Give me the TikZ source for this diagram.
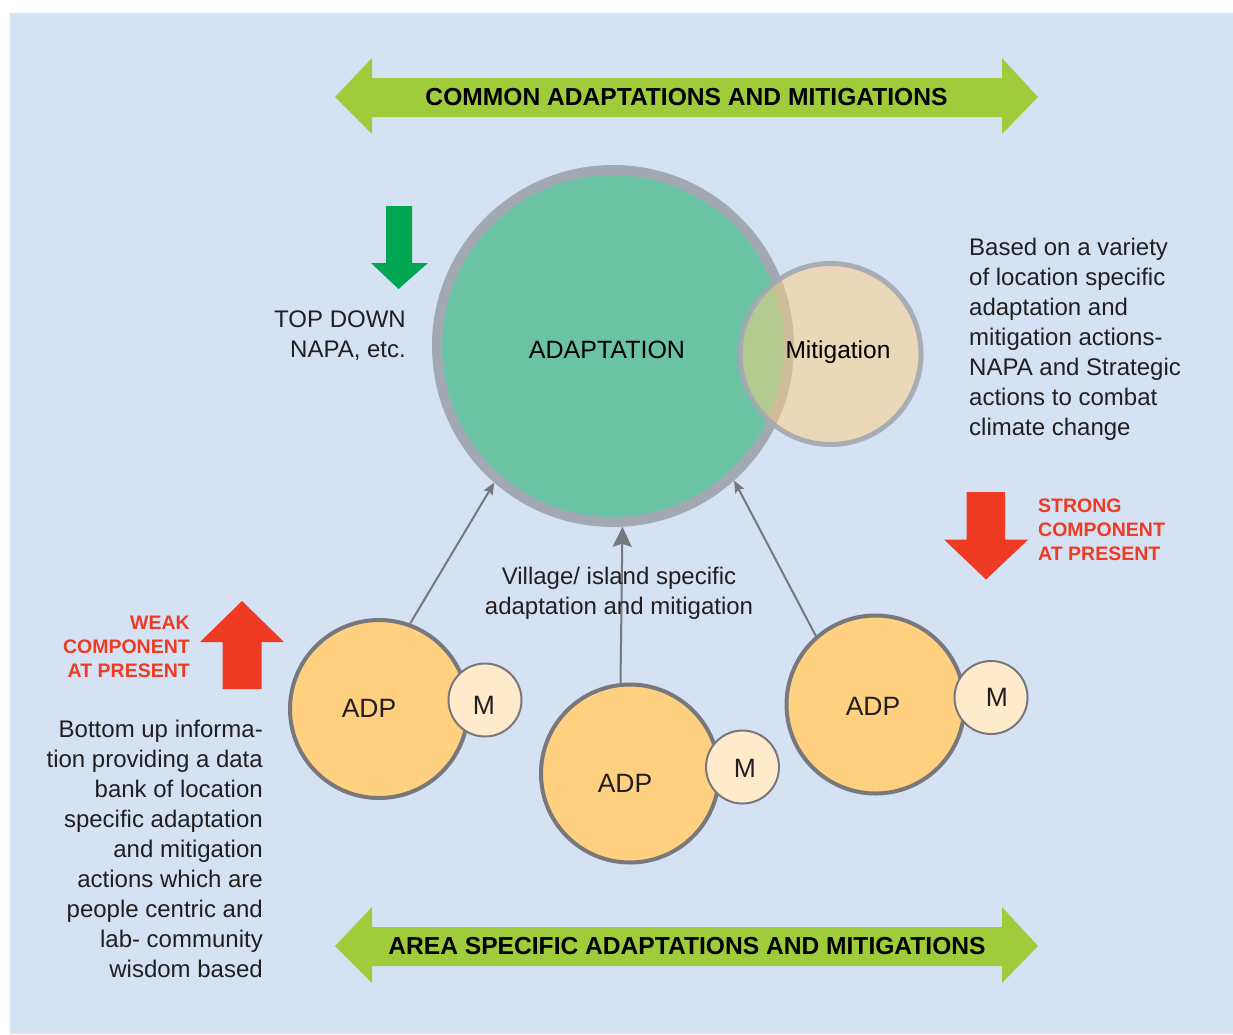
\documentclass[tikz,border=0pt]{standalone}
\usepackage{fontspec}
\setmainfont{Liberation Sans}
\usetikzlibrary{arrows.meta}
\definecolor{bgblue}{HTML}{D5E2F3}
\definecolor{lime}{HTML}{9FCC3B}
\definecolor{dgreen}{HTML}{00A651}
\definecolor{redc}{HTML}{EF3A24}
\definecolor{adgreen}{HTML}{6AC4A3}
\definecolor{ringgray}{HTML}{A2A9B2}
\definecolor{adporange}{HTML}{FFD080}
\definecolor{mfill}{HTML}{FFEBCC}
\definecolor{adpring}{HTML}{77787B}
\definecolor{conngray}{HTML}{77787B}
\definecolor{textdark}{HTML}{231F20}
\begin{document}
\begin{tikzpicture}[x=1pt,y=-1pt,
  txt/.style={inner sep=0pt, text=textdark},
  body/.style={txt, font=\fontsize{24}{30}\selectfont},
  bigtxt/.style={txt, font=\fontsize{26.5}{30}\selectfont},
  titletxt/.style={txt, font=\bfseries\fontsize{24.6}{30}\selectfont, text=black},
  redtxt/.style={inner sep=0pt, text=redc, font=\bfseries\fontsize{19.5}{24}\selectfont},
  adp/.style={circle, draw=adpring, line width=4pt, fill=adporange, minimum size=178pt, inner sep=0pt},
  mcirc/.style={circle, draw=adpring, line width=2pt, fill=mfill, minimum size=73pt, inner sep=0pt},
  conn/.style={draw=conngray, line width=2pt, -{Stealth[length=12pt,width=10pt,inset=2pt]}},
  connbig/.style={draw=conngray, line width=2pt, -{Stealth[length=20pt,width=19pt,inset=3pt]}}]
\useasboundingbox (0,0) rectangle (1233,1034);
\fill[white] (0,0) rectangle (1233,1034);
\fill[bgblue] (10,13) rectangle (1233,1034);

% green double arrows
\fill[lime] (335,97) -- (372,58) -- (372,78) -- (1002,78) -- (1002,58) -- (1038,97)
  -- (1002,134) -- (1002,117) -- (372,117) -- (372,134) -- cycle;
\fill[lime] (335,946) -- (372,907) -- (372,927) -- (1002,927) -- (1002,907) -- (1038,946)
  -- (1002,983) -- (1002,966) -- (372,966) -- (372,983) -- cycle;
\node[titletxt] (common) at (686.5,97) {COMMON ADAPTATIONS AND MITIGATIONS};
\node[titletxt] (area) at (687,946) {AREA SPECIFIC ADAPTATIONS AND MITIGATIONS};

% block arrows
\fill[dgreen] (386,206) -- (412,206) -- (412,263) -- (428,263) -- (398.5,289) -- (371,263) -- (386,263) -- cycle;
\fill[redc] (242,601) -- (284,642) -- (261.7,642) -- (261.7,689) -- (222.7,689) -- (222.7,642) -- (200,642) -- cycle;
\fill[redc] (966.7,492) -- (1005,492) -- (1005,539.5) -- (1028.3,539.5) -- (986,579.5) -- (944,539.5) -- (966.7,539.5) -- cycle;

% main circles
\node[circle, draw=ringgray, line width=10pt, fill=adgreen, minimum size=352pt, inner sep=0pt] (adapt) at (613,346) {};
\node[circle, draw=ringgray, draw opacity=0.9, line width=5pt, fill=adporange, fill opacity=0.5, minimum size=181pt, inner sep=0pt] (mitig) at (830.5,354) {};
\node[txt, font=\fontsize{25}{30}\selectfont, text=black] (adaptxt) at (607,350) {ADAPTATION};
\node[txt, font=\fontsize{24.5}{30}\selectfont, text=black] (mitxt) at (838,352) {Mitigation};

% ADP circles
\node[adp] (adpL) at (379,709) {};
\node[adp] (adpC) at (630,773.5) {};
\node[adp] (adpR) at (875.5,704.5) {};
\node[mcirc] (mL) at (485,700) {};
\node[mcirc] (mC) at (742.5,767) {};
\node[mcirc] (mR) at (991,697.5) {};
\node[bigtxt] (adpLt) at (369,708) {ADP};
\node[bigtxt] (adpCt) at (625,783) {ADP};
\node[bigtxt] (adpRt) at (873,706) {ADP};
\node[bigtxt] (mLt) at (484,705) {M};
\node[bigtxt] (mCt) at (745,768) {M};
\node[bigtxt] (mRt) at (997,697) {M};

% connectors
\draw[conn] (adpL.70) -- (adapt.229);
\draw[connbig] (adpC.96) -- (adapt.273);
\draw[conn] (adpR.131) -- (adapt.312);

% texts
\node[body, anchor=west, align=left] (based) at (969,339) {Based on a variety\\of location specific\\adaptation and\\mitigation actions-\\NAPA and Strategic\\actions to combat\\climate change};
\node[body, anchor=east, align=right] (topdown) at (406,336) {TOP DOWN\\NAPA, etc.};
\node[body, anchor=east, align=right] (bottomup) at (263,849) {Bottom up informa-\\tion providing a data\\bank of location\\specific adaptation\\and mitigation\\actions which are\\people centric and\\lab- community\\wisdom based};
\node[body, align=center] (village) at (619,593) {Village/ island specific\\adaptation and mitigation};
\node[redtxt, anchor=east, align=right] (weak) at (190,647) {WEAK\\COMPONENT\\AT PRESENT};
\node[redtxt, anchor=west, align=left] (strong) at (1038,530) {STRONG\\COMPONENT\\AT PRESENT};
\end{tikzpicture}
\end{document}
